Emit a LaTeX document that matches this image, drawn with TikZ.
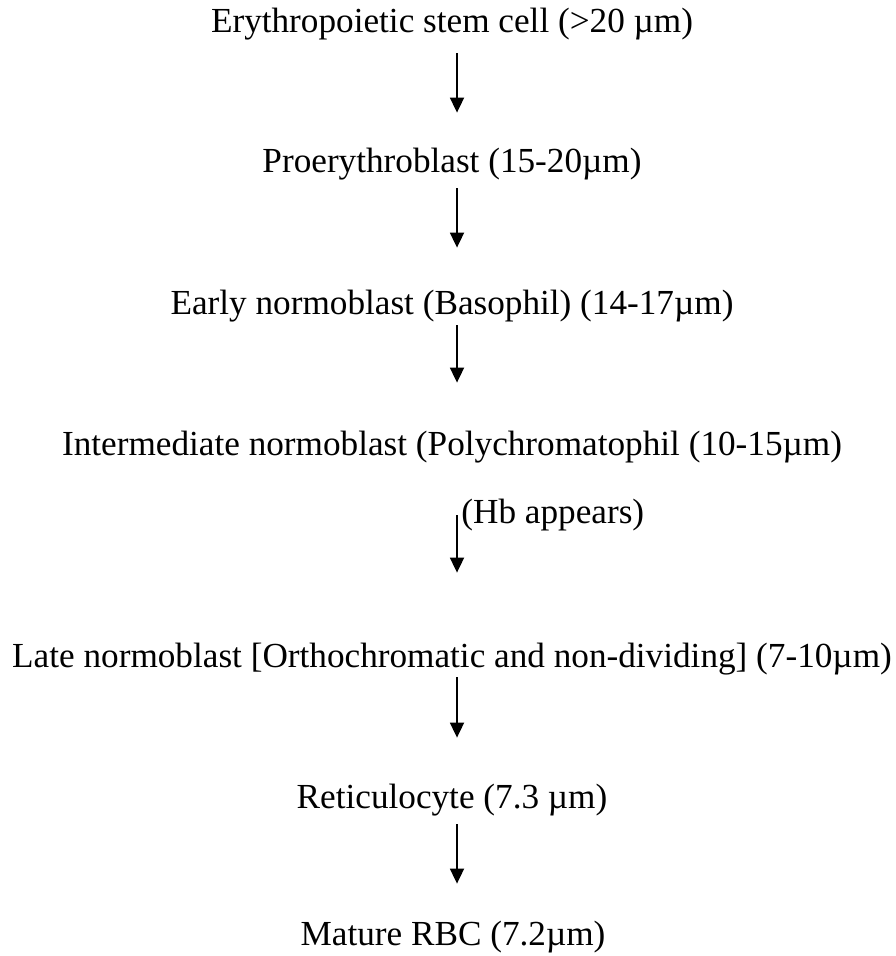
\documentclass[tikz,border=0pt]{standalone}
\usepackage{fontspec}
\setmainfont{Liberation Serif}
\usetikzlibrary{arrows.meta}
\begin{document}
\begin{tikzpicture}[x=0.5pt,y=-0.5pt,
  stage/.style={inner sep=0pt,text height=12pt,text depth=4pt,font=\fontsize{17.6}{21}\selectfont},
  flow/.style={-{Triangle[length=7.5pt,width=7pt]},line width=0.9pt}]
 \useasboundingbox (0,0) rectangle (895,956);
 \node[stage,anchor=base] (stem) at (452,33) {Erythropoietic stem cell (>20 µm)};
 \node[stage,anchor=base] (pro) at (452,173) {Proerythroblast (15-20µm)};
 \node[stage,anchor=base] (early) at (452,315) {Early normoblast (Basophil) (14-17µm)};
 \node[stage,anchor=base] (inter) at (452,455) {Intermediate normoblast (Polychromatophil (10-15µm)};
 \node[stage,anchor=base west] (hb) at (461,523) {(Hb appears)};
 \node[stage,anchor=base] (late) at (452,667) {Late normoblast [Orthochromatic and non-dividing] (7-10µm)};
 \node[stage,anchor=base] (retic) at (452,808) {Reticulocyte (7.3 µm)};
 \node[stage,anchor=base] (rbc) at (453,945) {Mature RBC (7.2µm)};
 \draw[flow,shorten <=6pt,shorten >=18pt] ([xshift=2.5pt]stem.south) -- ([xshift=2.5pt]pro.north);
 \draw[flow,shorten <=3.5pt,shorten >=21.5pt] ([xshift=2.5pt]pro.south) -- ([xshift=2.5pt]early.north);
 \draw[flow,shorten <=1pt,shorten >=24pt] ([xshift=2.5pt]early.south) -- ([xshift=2.5pt]inter.north);
 \draw[flow,shorten <=26pt,shorten >=35pt] ([xshift=2.5pt]inter.south) -- ([xshift=2.5pt]late.north);
 \draw[flow,shorten <=1pt,shorten >=23pt] ([xshift=2.5pt]late.south) -- ([xshift=2.5pt]retic.north);
 \draw[flow,shorten <=4pt,shorten >=18.5pt] ([xshift=2.5pt]retic.south) -- ([xshift=2pt]rbc.north);
\end{tikzpicture}
\end{document}
